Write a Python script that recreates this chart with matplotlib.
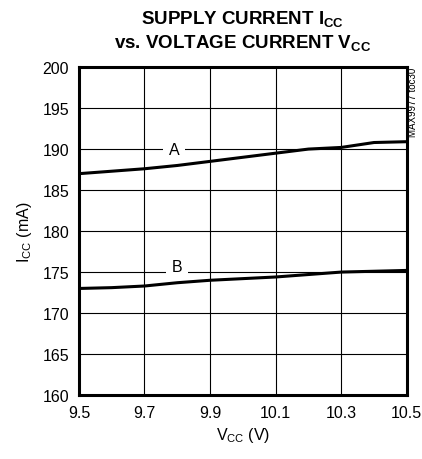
"""Supply current Icc vs. Vcc (MAX9977 toc30)."""

import matplotlib
matplotlib.use("Agg")
import matplotlib.pyplot as plt

plt.rcParams["font.family"] = ["Liberation Sans", "DejaVu Sans"]

vcc = [9.5, 9.6, 9.7, 9.8, 9.9, 10.0, 10.1, 10.2, 10.3, 10.4, 10.5]
icc_a = [187.0, 187.3, 187.6, 188.0, 188.5, 189.0, 189.5, 190.0, 190.2, 190.8, 190.9]
icc_b = [173.0, 173.1, 173.3, 173.7, 174.0, 174.2, 174.4, 174.7, 175.0, 175.1, 175.2]

x_ticks = [9.5, 9.7, 9.9, 10.1, 10.3, 10.5]
x_labels = ["9.5", "9.7", "9.9", "10.1", "10.3", "10.5"]
y_ticks = [160, 165, 170, 175, 180, 185, 190, 195, 200]

fig = plt.figure(figsize=(4.22, 4.60), dpi=100)
ax = fig.add_axes([0.187, 0.139, 0.777, 0.713])

ax.plot(vcc, icc_a, color="black", lw=2.2, solid_capstyle="butt")
ax.plot(vcc, icc_b, color="black", lw=2.2, solid_capstyle="butt")

ax.set_xlim(9.5, 10.5)
ax.set_ylim(160, 200)
ax.set_xticks(x_ticks)
ax.set_xticklabels(x_labels)
ax.set_yticks(y_ticks)
ax.grid(True, color="black", lw=0.8)
ax.tick_params(length=0, labelsize=11.5, pad=7)
for s in ax.spines.values():
    s.set_linewidth(2.2)

# curve labels sit in a gap of the grid line
ax.text(9.79, 190.0, "A", ha="center", va="center", fontsize=11.5,
        bbox=dict(facecolor="white", edgecolor="none", pad=4))
ax.text(9.80, 175.7, "B", ha="center", va="center", fontsize=11.5,
        bbox=dict(facecolor="white", edgecolor="none", pad=4))

ax.set_xlabel("V$_{\\mathregular{CC}}$ (V)", fontsize=11.5, labelpad=4)
ax.set_ylabel("I$_{\\mathregular{CC}}$ (mA)", fontsize=11.5, labelpad=6)

fig.text(0.575, 0.957, "SUPPLY CURRENT I$_{\\mathregular{CC}}$", ha="center",
         va="center", fontsize=13.5, fontweight="bold")
fig.text(0.575, 0.905, "vs. VOLTAGE CURRENT V$_{\\mathregular{CC}}$", ha="center",
         va="center", fontsize=13.5, fontweight="bold")

fig.text(0.979, 0.853, "MAX9977 toc30", rotation=90, ha="center", va="top",
         fontsize=7)

fig.savefig("out.png", dpi=100)
plt.close(fig)
